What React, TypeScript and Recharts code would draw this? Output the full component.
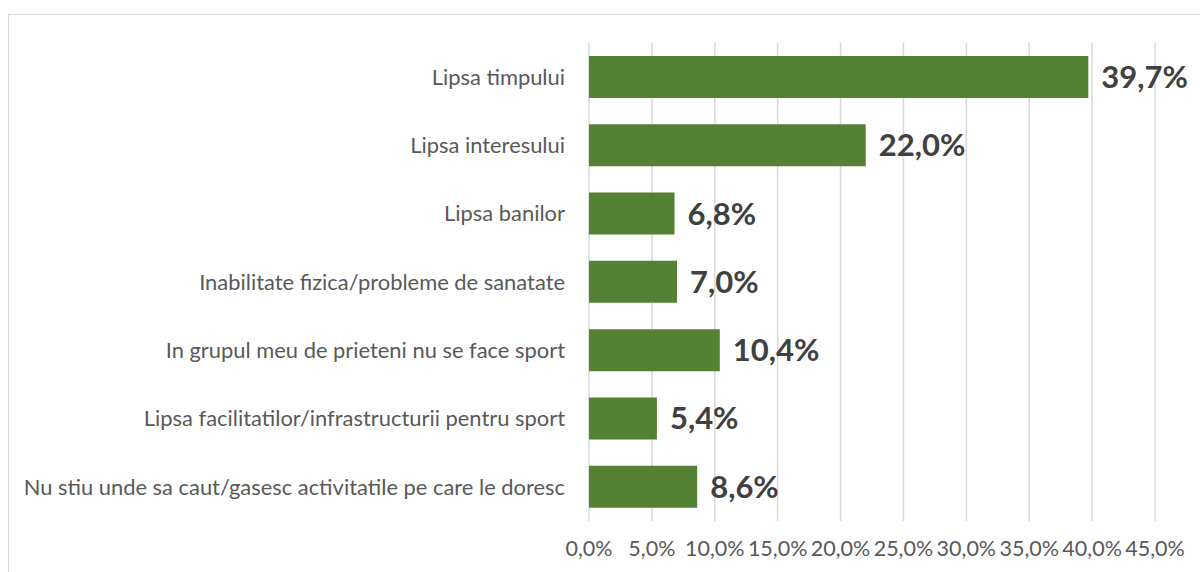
import React from "react";
import { BarChart, Bar, XAxis, YAxis, CartesianGrid, LabelList } from "recharts";

const categories = [
  "Lipsa timpului",
  "Lipsa interesului",
  "Lipsa banilor",
  "Inabilitate fizica/probleme de sanatate",
  "In grupul meu de prieteni nu se face sport",
  "Lipsa facilitatilor/infrastructurii pentru sport",
  "Nu stiu unde sa caut/gasesc activitatile pe care le doresc",
];
const values = [39.7, 22.0, 6.8, 7.0, 10.4, 5.4, 8.6];
const xTicks = [0, 5, 10, 15, 20, 25, 30, 35, 40, 45];

const data = categories.map((name, i) => ({ name, value: values[i] }));
const fmt = (v: number) => v.toFixed(1).replace(".", ",") + "%";
const FONT = "Lato, 'Noto Sans', sans-serif";

export default function App() {
  return (
    <>
      <style>{`body{margin:0;overflow:hidden;background:#fff}`}</style>
      <div
        style={{
          position: "absolute",
          left: 8,
          top: 14,
          width: 1192,
          height: 558,
          borderTop: "1px solid #d9d9d9",
          borderLeft: "1px solid #d9d9d9",
          background: "#fff",
        }}
      >
        <BarChart
          width={1191}
          height={557}
          data={data}
          layout="vertical"
          margin={{ top: 28, right: 45, bottom: 0, left: 0 }}
          style={{ fontFamily: FONT }}
        >
          <CartesianGrid horizontal={false} stroke="#d9d9d9" strokeWidth={1.5} />
          <XAxis
            type="number"
            domain={[0, 45]}
            ticks={xTicks}
            tickFormatter={fmt}
            axisLine={false}
            tickLine={false}
            tickSize={0}
            tickMargin={20}
            height={51}
            interval={0}
            tick={{ fill: "#595959", fontSize: 21.5, fontFamily: FONT }}
          />
          <YAxis
            type="category"
            dataKey="name"
            width={580}
            axisLine={false}
            tickLine={false}
            tickSize={0}
            tickMargin={24}
            interval={0}
            tick={{ fill: "#595959", fontSize: 21.9, fontFamily: FONT }}
          />
          <Bar dataKey="value" fill="#548235" barSize={42} isAnimationActive={false}>
            <LabelList
              dataKey="value"
              position="right"
              offset={13}
              formatter={(v: number) => fmt(v)}
              style={{ fill: "#404040", fontSize: 31, fontWeight: 700, fontFamily: FONT }}
            />
          </Bar>
        </BarChart>
      </div>
    </>
  );
}
